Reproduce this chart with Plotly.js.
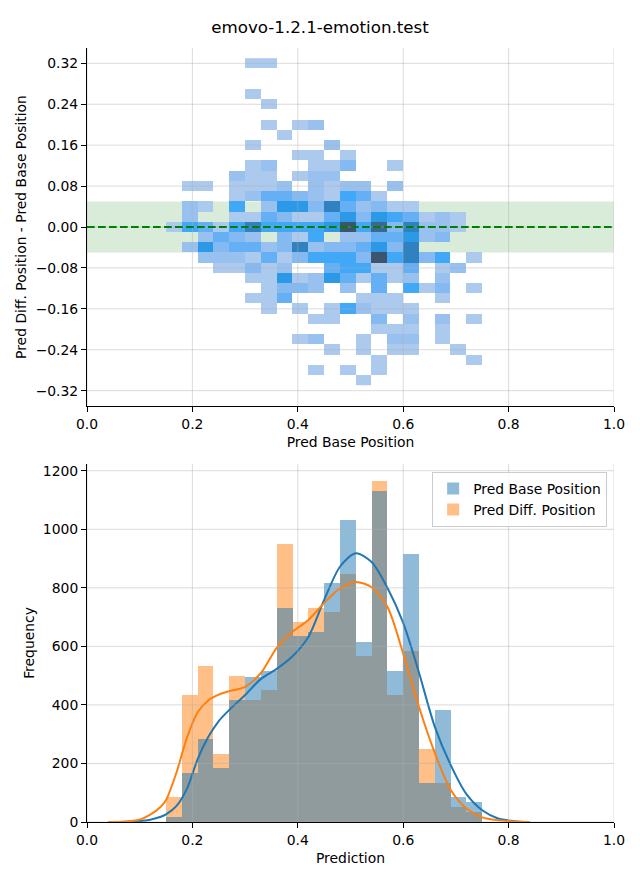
<!DOCTYPE html>
<html><head><meta charset="utf-8">
<script src="https://cdn.plot.ly/plotly-3.0.1.min.js"></script>
<style>html,body{margin:0;padding:0;background:#fff}#chart{width:640px;height:880px}</style>
</head><body><div id="chart"></div>
<script>
// ---------------- data ----------------
const binCenters = [0.165,0.195,0.225,0.255,0.285,0.315,0.345,0.375,0.405,0.435,0.465,0.495,0.525,0.555,0.585,0.615,0.645,0.675,0.705,0.735];
const baseCounts = [17,167,284,185,417,497,516,731,634,650,817,1032,615,1132,516,916,133,383,85,68];
const diffCounts = [85,434,533,232,499,417,451,950,684,732,718,848,567,1166,434,585,250,133,51,34];

const kdeX    = [0.04,0.07,0.10,0.12,0.14,0.15,0.17,0.19,0.21,0.23,0.25,0.27,0.30,0.33,0.36,0.39,0.42,0.45,0.48,0.51,0.54,0.57,0.60,0.63,0.66,0.69,0.72,0.75,0.78,0.81,0.84];
const baseKde = [0,1,3,8,18,26,55,115,215,290,345,383,434,489,523,566,632,759,872,918,888,800,680,510,325,195,95,40,12,3,0];
const diffKde = [0,1,8,25,52,75,170,290,375,415,435,447,462,509,595,650,690,748,798,820,802,735,575,393,236,110,46,16,6,2,0];

// 2D histogram: rows = diff-base bin centres (top to bottom), cols = binCenters
const diffCenters = [0.32,0.30,0.28,0.26,0.24,0.22,0.20,0.18,0.16,0.14,0.12,0.10,0.08,0.06,0.04,0.02,0.00,-0.02,-0.04,-0.06,-0.08,-0.10,-0.12,-0.14,-0.16,-0.18,-0.20,-0.22,-0.24,-0.26,-0.28,-0.30];
const counts2d = [
 [0,0,0,0,0,16,16,0,0,0,0,0,0,0,0,0,0,0,0,0],
 [0,0,0,0,0,0,0,0,0,0,0,0,0,0,0,0,0,0,0,0],
 [0,0,0,0,0,0,0,0,0,0,0,0,0,0,0,0,0,0,0,0],
 [0,0,0,0,0,16,0,0,0,0,0,0,0,0,0,0,0,0,0,0],
 [0,0,0,0,0,0,16,0,0,0,0,0,0,0,0,0,0,0,0,0],
 [0,0,0,0,0,0,0,0,0,0,0,0,0,0,0,0,0,0,0,0],
 [0,0,0,0,0,0,16,0,16,30,0,0,0,0,0,0,0,0,0,0],
 [0,0,0,0,0,0,0,16,0,0,0,0,0,0,0,0,0,0,0,0],
 [0,0,0,0,0,16,0,0,0,0,30,0,0,0,0,0,0,0,0,0],
 [0,0,0,0,0,0,0,0,16,16,0,16,0,0,0,0,0,0,0,0],
 [0,0,0,0,0,16,30,0,0,16,16,42,0,0,16,0,0,0,0,0],
 [0,0,0,0,30,16,16,0,16,30,30,0,0,0,0,0,0,0,0,0],
 [0,16,16,0,16,16,16,30,0,30,16,30,30,0,30,0,0,0,0,0],
 [0,0,0,0,16,30,58,58,42,30,16,72,58,16,0,0,0,0,0,0],
 [0,30,16,0,72,0,30,95,95,42,130,58,30,42,16,16,0,0,0,0],
 [0,30,0,0,16,16,58,42,16,16,58,95,42,95,72,58,16,30,16,0],
 [16,72,58,16,72,130,72,72,72,72,95,200,72,170,42,130,30,30,16,0],
 [0,0,30,58,42,30,0,42,16,72,0,30,30,58,58,95,30,42,0,0],
 [0,30,95,42,58,58,30,42,130,30,42,42,58,95,42,130,0,0,0,0],
 [0,0,30,30,30,16,58,16,42,72,72,72,42,200,72,130,42,72,0,16],
 [0,0,0,16,16,42,16,30,0,0,58,72,72,16,16,58,0,16,30,0],
 [0,0,0,0,0,16,16,95,16,30,95,58,16,58,16,30,0,30,0,0],
 [0,0,0,0,0,0,16,42,42,30,0,30,0,58,0,72,16,42,0,16],
 [0,0,0,0,0,16,16,58,0,0,0,0,16,16,16,0,0,16,0,0],
 [0,0,0,0,0,0,16,0,16,0,16,72,30,16,16,16,0,0,0,0],
 [0,0,0,0,0,0,0,0,0,16,16,0,0,42,0,30,0,30,0,16],
 [0,0,0,0,0,0,0,0,0,0,0,0,0,16,16,16,0,16,0,0],
 [0,0,0,0,0,0,0,0,16,30,0,0,16,0,30,30,0,16,0,0],
 [0,0,0,0,0,0,0,0,0,0,16,0,16,0,16,16,0,0,16,0],
 [0,0,0,0,0,0,0,0,0,0,0,0,0,16,0,0,0,0,0,16],
 [0,0,0,0,0,0,0,0,0,16,0,16,0,16,0,0,0,0,0,0],
 [0,0,0,0,0,0,0,0,0,0,0,0,16,0,0,0,0,0,0,0]
];

const topXTicks = [0,0.2,0.4,0.6,0.8,1.0];
const topYTicks = [-0.32,-0.24,-0.16,-0.08,0,0.08,0.16,0.24,0.32];
const botYTicks = [0,200,400,600,800,1000,1200];

// ---------------- seaborn-like sequential colormap (husl ramp) ----------------
const Mx = [[3.2406,-1.5372,-0.4986],[-0.9689,1.8758,0.0415],[0.0557,-0.2040,1.0570]];
const Mi = [[0.4124,0.3576,0.1805],[0.2126,0.7152,0.0722],[0.0193,0.1192,0.9505]];
const refY=1.0, refU=0.19784, refV=0.46834;
const kappa=24389/27, eps=216/24389, labE=0.008856;
function dot(a,b){return a[0]*b[0]+a[1]*b[1]+a[2]*b[2];}
function fromLin(c){return c<=0.0031308?12.92*c:1.055*Math.pow(c,1/2.4)-0.055;}
function toLin(c){return c>0.04045?Math.pow((c+0.055)/1.055,2.4):c/12.92;}
function maxChroma(L,H){
  const hr=H*Math.PI/180, s=Math.sin(hr), c=Math.cos(hr);
  const sub1=Math.pow(L+16,3)/1560896, sub2=sub1>0.008856?sub1:L/903.3;
  let res=Infinity;
  for(const r of Mx){
    const top=(0.99915*r[0]+1.05122*r[1]+1.14460*r[2])*sub2;
    const rb=0.86330*r[2]-0.17266*r[1], lb=0.12949*r[2]-0.38848*r[0];
    const bot=(rb*s+lb*c)*sub2;
    for(const t of [0,1]){const C=L*(top-1.05122*t)/(bot+0.17266*s*t); if(C>0&&C<res)res=C;}
  }
  return res;
}
function fInv(t){return Math.pow(t,3)>eps?Math.pow(t,3):(116*t-16)/kappa;}
function fF(t){return t>labE?Math.pow(t,1/3):7.787*t+16/116;}
function husl2rgb(h,s,l){
  let L=l,C;
  if(l>99.9999){L=100;C=0;} else if(l<1e-8){L=0;C=0;} else {C=maxChroma(l,h)/100*s;}
  const hr=h*Math.PI/180, U=Math.cos(hr)*C, V=Math.sin(hr)*C;
  if(L===0) return [0,0,0];
  const Y=fInv((L+16)/116)*refY;
  const vU=U/(13*L)+refU, vV=V/(13*L)+refV;
  const X=0-(9*Y*vU)/((vU-4)*vV-vU*vV);
  const Z=(9*Y-15*vV*Y-vV*X)/(3*vV);
  return Mx.map(r=>fromLin(dot(r,[X,Y,Z])));
}
function rgb2husl(r,g,b){
  const rl=[toLin(r),toLin(g),toLin(b)];
  const [X,Y,Z]=Mi.map(row=>dot(row,rl));
  const d=X+15*Y+3*Z, vU=4*X/d, vV=9*Y/d;
  const L=116*fF(Y/refY)-16;
  const U=13*L*(vU-refU), V=13*L*(vV-refV);
  const C=Math.sqrt(U*U+V*V); let H=Math.atan2(V,U)*180/Math.PI; if(H<0)H+=360;
  const S=C/maxChroma(L,H)*100;
  return [H,S,L];
}
function cmapFromColor(hex){
  const r=parseInt(hex.slice(1,3),16)/255,g=parseInt(hex.slice(3,5),16)/255,b=parseInt(hex.slice(5,7),16)/255;
  const [h,s]=rgb2husl(r,g,b);
  const n=256, cols=[];
  for(let i=0;i<n;i++){
    const xx=-1+2*i/(Math.floor(1.15*256)-1);
    const l=35+45*i/(n-1);
    const rgb=husl2rgb(h,s*Math.cos(xx),l).map(v=>Math.round(255*Math.min(1,Math.max(0,v))));
    cols.push(rgb);
  }
  cols.reverse();
  return cols.map((c,i)=>[i/(n-1),`rgb(${c[0]},${c[1]},${c[2]})`]);
}
const C0='#1f77b4', C1='#ff7f0e';
const C0a='rgba(31,119,180,0.5)', C1a='rgba(255,127,14,0.5)';
const heatScale=cmapFromColor(C0);

// ---------------- traces ----------------
const zMasked=counts2d.map(row=>row.map(v=>v>0?v:null));
const traces=[
  {type:'heatmap',x:binCenters,y:diffCenters,z:zMasked,colorscale:heatScale,showscale:false,zmin:0,
   xaxis:'x',yaxis:'y',hoverinfo:'skip',zsmooth:false},
  {type:'bar',x:binCenters,y:diffCounts,width:0.03,name:'Pred Diff. Position',legendrank:2,
   marker:{color:C1a,line:{width:0}},xaxis:'x2',yaxis:'y2'},
  {type:'bar',x:binCenters,y:baseCounts,width:0.03,name:'Pred Base Position',legendrank:1,
   marker:{color:C0a,line:{width:0}},xaxis:'x2',yaxis:'y2'},
  {type:'scatter',mode:'lines',x:kdeX,y:baseKde,line:{color:C0,width:2,shape:'spline',smoothing:0.8},
   showlegend:false,xaxis:'x2',yaxis:'y2',hoverinfo:'skip'},
  {type:'scatter',mode:'lines',x:kdeX,y:diffKde,line:{color:C1,width:2,shape:'spline',smoothing:0.8},
   showlegend:false,xaxis:'x2',yaxis:'y2',hoverinfo:'skip'}
];

// ---------------- shapes (grid above traces, band, zero line) ----------------
const gridCol='rgba(176,176,176,0.45)';
const shapes=[];
shapes.push({type:'rect',xref:'x domain',yref:'y',x0:0,x1:1,y0:-0.05,y1:0.05,
  fillcolor:'rgba(0,128,0,0.15)',line:{width:0},layer:'below'});
topXTicks.forEach(v=>shapes.push({type:'line',xref:'x',yref:'y domain',x0:v,x1:v,y0:0,y1:1,line:{color:gridCol,width:1},layer:'above'}));
topYTicks.forEach(v=>shapes.push({type:'line',xref:'x domain',yref:'y',x0:0,x1:1,y0:v,y1:v,line:{color:gridCol,width:1},layer:'above'}));
topXTicks.forEach(v=>shapes.push({type:'line',xref:'x2',yref:'y2 domain',x0:v,x1:v,y0:0,y1:1,line:{color:gridCol,width:1},layer:'above'}));
botYTicks.forEach(v=>shapes.push({type:'line',xref:'x2 domain',yref:'y2',x0:0,x1:1,y0:v,y1:v,line:{color:gridCol,width:1},layer:'above'}));
shapes.push({type:'line',xref:'x domain',yref:'y',x0:0,x1:1,y0:0,y1:0,
  line:{color:'green',width:2,dash:'7.7px,3.3px'},layer:'above'});

const axBase={showgrid:false,zeroline:false,showline:true,linecolor:'black',linewidth:1,
  ticks:'outside',ticklen:5,tickwidth:1,tickcolor:'black',
  tickfont:{family:'DejaVu Sans',size:13.9,color:'black'}};
const titleFont={family:'DejaVu Sans',size:13.9,color:'black'};

const layout={
  width:640,height:880,
  margin:{l:87,r:26,t:48,b:58},
  paper_bgcolor:'white',plot_bgcolor:'white',
  font:{family:'DejaVu Sans',size:13.9,color:'black'},
  title:{text:'emovo-1.2.1-emotion.test',font:{family:'DejaVu Sans',size:16.7,color:'black'},
    xref:'container',x:0.5,xanchor:'center',yref:'container',y:1-27/880,yanchor:'middle'},
  barmode:'overlay',bargap:0,
  showlegend:true,
  legend:{x:0.987,xanchor:'right',y:(822-472)/774,yanchor:'top',bgcolor:'rgba(255,255,255,0.8)',
    bordercolor:'#cccccc',borderwidth:1,font:{family:'DejaVu Sans',size:13.9,color:'black'},traceorder:'normal'},
  xaxis:Object.assign({},axBase,{domain:[0,1],anchor:'y',range:[0,1],tickvals:topXTicks,tickformat:'.1f',
    title:{text:'Pred Base Position',font:titleFont,standoff:6}}),
  yaxis:Object.assign({},axBase,{domain:[(822-406)/774,1],anchor:'x',range:[-0.35,0.35],tickvals:topYTicks,tickformat:'.2f',
    title:{text:'Pred Diff. Position - Pred Base Position',font:titleFont,standoff:5}}),
  xaxis2:Object.assign({},axBase,{domain:[0,1],anchor:'y2',range:[0,1],tickvals:topXTicks,tickformat:'.1f',
    title:{text:'Prediction',font:titleFont,standoff:6}}),
  yaxis2:Object.assign({},axBase,{domain:[0,(822-464)/774],anchor:'x2',range:[0,1223],tickvals:botYTicks,
    title:{text:'Frequency',font:titleFont,standoff:4}}),
  shapes:shapes
};
Plotly.newPlot('chart',traces,layout,{staticPlot:true,displayModeBar:false});
</script></body></html>
